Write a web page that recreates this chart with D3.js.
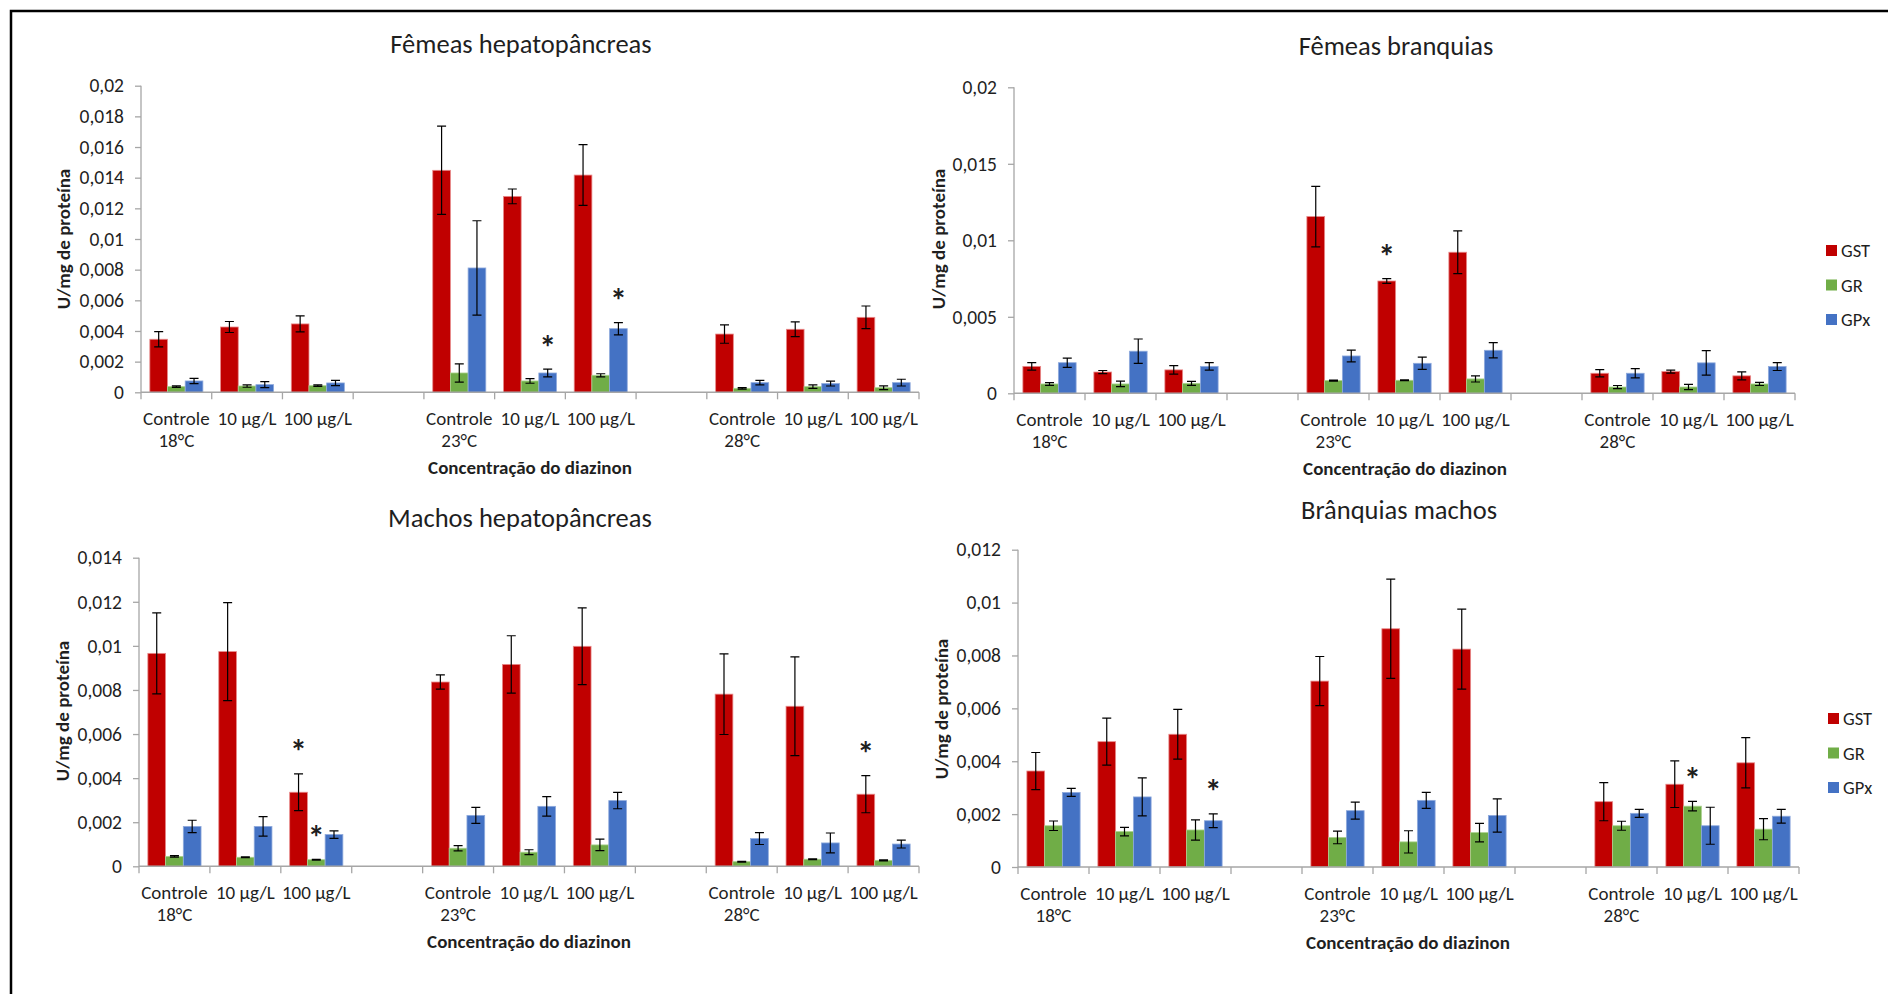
<!DOCTYPE html>
<html lang="pt">

<head>
  <meta charset="UTF-8">
  <script src="https://d3js.org/d3.v7.min.js"></script>
  <title>Enzimas antioxidantes - diazinon</title>
  <style>
    body { margin: 0; background: #fff; }
    svg text { font-family: Carlito, Calibri, Lato, sans-serif; fill: #1f1f1f; }
  </style>
</head>

<body>
  <svg width="1888" height="994"></svg>

  <script>
    // categories
    const concLabels = ['Controle', '10 µg/L', '100 µg/L']
    const temps = ['18°C', '23°C', '28°C']
    const series = ['GST', 'GR', 'GPx']
    const COLORS = ['#C00000', '#70AD47', '#4472C4']
    const EDGE = ['#e88a8a', '#a9d18e', '#8faadc']

    // Fêmeas hepatopâncreas (18/23/28 °C x Controle, 10, 100)
    const femHepGST = [0.00346, 0.00426, 0.00446, 0.01448, 0.01278, 0.01417, 0.00380, 0.00411, 0.00489]
    const femHepGSTErr = [0.0005, 0.00036, 0.00052, 0.00288, 0.00048, 0.00198, 0.0006, 0.00048, 0.00074]
    const femHepGR = [0.00037, 0.00041, 0.00043, 0.00126, 0.00074, 0.00111, 0.00026, 0.00037, 0.00030]
    const femHepGRErr = [0.00005, 0.00008, 0.00005, 0.0006, 0.00015, 0.0001, 0.00005, 0.00012, 0.00012]
    const femHepGPx = [0.00074, 0.0005, 0.00061, 0.00811, 0.00126, 0.00415, 0.00063, 0.00057, 0.00063]
    const femHepGPxErr = [0.00017, 0.0002, 0.00017, 0.00308, 0.00025, 0.0004, 0.00015, 0.00016, 0.00022]
    const femHepStars = [[4, 2], [5, 2]]

    // Fêmeas branquias
    const femBrGST = [0.00176, 0.00139, 0.00153, 0.01155, 0.00734, 0.00922, 0.00131, 0.00142, 0.00114]
    const femBrGSTErr = [0.00024, 0.0001, 0.00028, 0.00198, 0.00015, 0.0014, 0.00024, 0.0001, 0.00026]
    const femBrGR = [0.00061, 0.00061, 0.00065, 0.00083, 0.00085, 0.00094, 0.00041, 0.00041, 0.00061]
    const femBrGRErr = [0.00009, 0.00018, 0.00013, 0.00003, 0.00003, 0.0002, 0.0001, 0.00017, 0.0001]
    const femBrGPx = [0.0020, 0.00275, 0.00176, 0.00244, 0.00196, 0.00281, 0.00131, 0.00199, 0.00175]
    const femBrGPxErr = [0.0003, 0.0008, 0.00025, 0.00038, 0.0004, 0.0005, 0.0003, 0.0008, 0.00026]
    const femBrStars = [[4, 0]]

    // Machos hepatopâncreas
    const macHepGST = [0.00966, 0.00974, 0.00336, 0.00836, 0.00916, 0.00998, 0.00781, 0.00726, 0.00327]
    const macHepGSTErr = [0.00184, 0.00222, 0.00083, 0.00032, 0.0013, 0.00174, 0.00183, 0.00224, 0.00084]
    const macHepGR = [0.00045, 0.00041, 0.0003, 0.00082, 0.00064, 0.00097, 0.00021, 0.00032, 0.00027]
    const macHepGRErr = [0.00003, 0.00002, 0.00002, 0.00012, 0.00011, 0.00026, 0.00002, 0.00002, 0.00002]
    const macHepGPx = [0.00181, 0.00181, 0.00144, 0.00231, 0.00272, 0.00298, 0.00126, 0.00106, 0.00101]
    const macHepGPxErr = [0.00028, 0.00044, 0.00017, 0.00036, 0.00044, 0.00037, 0.00027, 0.00045, 0.00018]
    const macHepStars = [[2, 0], [2, 1], [8, 0]]

    // Brânquias machos
    const macBrGST = [0.00363, 0.00474, 0.00502, 0.00703, 0.00901, 0.00824, 0.00247, 0.00313, 0.00394]
    const macBrGSTErr = [0.0007, 0.00089, 0.00094, 0.00093, 0.00188, 0.00151, 0.00072, 0.00088, 0.00095]
    const macBrGR = [0.00156, 0.00134, 0.0014, 0.00112, 0.00095, 0.0013, 0.00156, 0.0023, 0.00143]
    const macBrGRErr = [0.00018, 0.00016, 0.00038, 0.00024, 0.00042, 0.00035, 0.00017, 0.00018, 0.0004]
    const macBrGPx = [0.00282, 0.00265, 0.00175, 0.00213, 0.00252, 0.00195, 0.00203, 0.00156, 0.00192]
    const macBrGPxErr = [0.00015, 0.00072, 0.00026, 0.00032, 0.0003, 0.00063, 0.00015, 0.0007, 0.00026]
    const macBrStars = [[2, 2], [7, 1]]

    const svg = d3.select('svg')

    // frame (only top and left edges show in the original)
    svg.append('path').attr('d', 'M11,994 V11 H1888')
      .attr('fill', 'none').attr('stroke', '#000').attr('stroke-width', 2.5)

    // 11 slots on the x axis: 3 concentrations per temperature, one empty slot between
    const slotKeys = []
    temps.forEach((t, ti) => {
      concLabels.forEach((c, ci) => slotKeys.push(`${ti}-${ci}`))
      if (ti < temps.length - 1) slotKeys.push(`gap${ti}`)
    })
    const condKeys = slotKeys.filter(k => !k.startsWith('gap'))

    const fmt = v => v === 0 ? '0' : (+v.toFixed(4)).toString().replace('.', ',')

    function drawPanel(p) {
      const g = svg.append('g')
      const x = d3.scaleBand().domain(slotKeys).range([p.x0, p.x1])
      const inner = d3.scaleBand().domain(series).range([0, x.bandwidth()]).paddingOuter(0.5).paddingInner(0)
      const y = d3.scaleLinear().domain([0, p.ymax]).range([p.yb, p.yt])

      // y axis
      const yAxis = g.append('g').attr('transform', `translate(${p.x0},0)`)
        .call(d3.axisLeft(y).tickValues(d3.range(0, p.ymax + 1e-9, p.step)).tickSize(6).tickPadding(11).tickFormat(fmt))
      yAxis.selectAll('text').style('font-size', '19.5px')
      yAxis.selectAll('line, path').attr('stroke', '#a6a6a6').attr('stroke-width', 1.3)
      yAxis.select('path').attr('d', `M0,${p.yb}V${p.yt}`)

      // bars
      const rows = [p.gst, p.gr, p.gpx]
      const errs = [p.gstErr, p.grErr, p.gpxErr]
      rows.forEach((vals, si) => {
        g.selectAll(null).data(vals).join('rect')
          .attr('x', (d, i) => x(condKeys[i]) + inner(series[si]))
          .attr('width', inner.bandwidth())
          .attr('y', d => y(d))
          .attr('height', d => y(0) - y(d))
          .attr('fill', COLORS[si])
          .attr('stroke', EDGE[si]).attr('stroke-width', 0.8)
      })

      // error bars
      rows.forEach((vals, si) => {
        vals.forEach((v, i) => {
          const cx = x(condKeys[i]) + inner(series[si]) + inner.bandwidth() / 2
          const lo = y(v - errs[si][i]), hi = y(v + errs[si][i])
          g.append('path')
            .attr('d', `M${cx},${lo}V${hi}M${cx - 4.5},${hi}H${cx + 4.5}M${cx - 4.5},${lo}H${cx + 4.5}`)
            .attr('stroke', '#000').attr('stroke-width', 1.2).attr('fill', 'none')
        })
      })

      // x axis
      const xAxis = g.append('g').attr('transform', `translate(0,${p.yb})`)
      xAxis.append('path').attr('d', `M${p.x0},0H${p.x1}`).attr('stroke', '#a6a6a6').attr('stroke-width', 1.5)
      const bounds = slotKeys.map(k => x(k)).concat([p.x1])
      xAxis.selectAll(null).data(bounds).join('line')
        .attr('x1', d => d).attr('x2', d => d).attr('y1', 0).attr('y2', 7)
        .attr('stroke', '#a6a6a6').attr('stroke-width', 1.3)
      condKeys.forEach((k, i) => {
        const cx = x(k) + x.bandwidth() / 2
        xAxis.append('text').attr('x', cx).attr('y', 33).attr('text-anchor', 'middle')
          .style('font-size', '19px').text(concLabels[i % 3])
        if (i % 3 === 0) {
          xAxis.append('text').attr('x', cx).attr('y', 55).attr('text-anchor', 'middle')
            .style('font-size', '19px').text(temps[i / 3])
        }
      })

      // significance marks
      p.stars.forEach(([i, si]) => {
        const cx = x(condKeys[i]) + inner(series[si]) + inner.bandwidth() / 2
        g.append('text').attr('x', cx).attr('y', y(rows[si][i] + errs[si][i]) - 22)
          .attr('text-anchor', 'middle').attr('dominant-baseline', 'central')
          .style('font-size', '34px').style('font-weight', 'bold').text('*')
      })

      // titles
      g.append('text').attr('x', p.titleX).attr('y', p.titleY).attr('text-anchor', 'middle')
        .style('font-size', '26.5px').text(p.title)
      g.append('text').attr('transform', `translate(${p.ylabX},${p.ylabY}) rotate(-90)`)
        .attr('text-anchor', 'middle').attr('dominant-baseline', 'central')
        .style('font-size', '19px').style('font-weight', 'bold').text('U/mg de proteína')
      g.append('text').attr('x', p.xlabX).attr('y', p.yb + 82).attr('text-anchor', 'middle')
        .style('font-size', '19px').style('font-weight', 'bold').text('Concentração do diazinon')

      // legend
      if (p.legendY) {
        series.forEach((s, si) => {
          g.append('rect').attr('x', p.legendX).attr('y', p.legendY + si * 34.5)
            .attr('width', 11).attr('height', 11).attr('fill', COLORS[si])
          g.append('text').attr('x', p.legendX + 15).attr('y', p.legendY + si * 34.5 + 5.5)
            .attr('dominant-baseline', 'central').style('font-size', '18.5px').text(s)
        })
      }
    }

    drawPanel({
      title: 'Fêmeas hepatopâncreas', titleX: 521, titleY: 53,
      x0: 141, x1: 919, yt: 85.7, yb: 392.3, ymax: 0.02, step: 0.002,
      ylabX: 63, ylabY: 239, xlabX: 530,
      gst: femHepGST, gstErr: femHepGSTErr, gr: femHepGR, grErr: femHepGRErr,
      gpx: femHepGPx, gpxErr: femHepGPxErr, stars: femHepStars
    })
    drawPanel({
      title: 'Fêmeas branquias', titleX: 1396, titleY: 55,
      x0: 1014, x1: 1795, yt: 87.3, yb: 393.3, ymax: 0.02, step: 0.005,
      ylabX: 938, ylabY: 239, xlabX: 1405,
      gst: femBrGST, gstErr: femBrGSTErr, gr: femBrGR, grErr: femBrGRErr,
      gpx: femBrGPx, gpxErr: femBrGPxErr, stars: femBrStars,
      legendX: 1826, legendY: 245
    })
    drawPanel({
      title: 'Machos hepatopâncreas', titleX: 520, titleY: 527,
      x0: 139, x1: 919, yt: 557.7, yb: 866.3, ymax: 0.014, step: 0.002,
      ylabX: 62, ylabY: 711, xlabX: 529,
      gst: macHepGST, gstErr: macHepGSTErr, gr: macHepGR, grErr: macHepGRErr,
      gpx: macHepGPx, gpxErr: macHepGPxErr, stars: macHepStars
    })
    drawPanel({
      title: 'Brânquias machos', titleX: 1399, titleY: 519,
      x0: 1018, x1: 1799, yt: 549.7, yb: 867, ymax: 0.012, step: 0.002,
      ylabX: 941, ylabY: 709, xlabX: 1408,
      gst: macBrGST, gstErr: macBrGSTErr, gr: macBrGR, grErr: macBrGRErr,
      gpx: macBrGPx, gpxErr: macBrGPxErr, stars: macBrStars,
      legendX: 1828, legendY: 713
    })
  </script>
</body>

</html>
